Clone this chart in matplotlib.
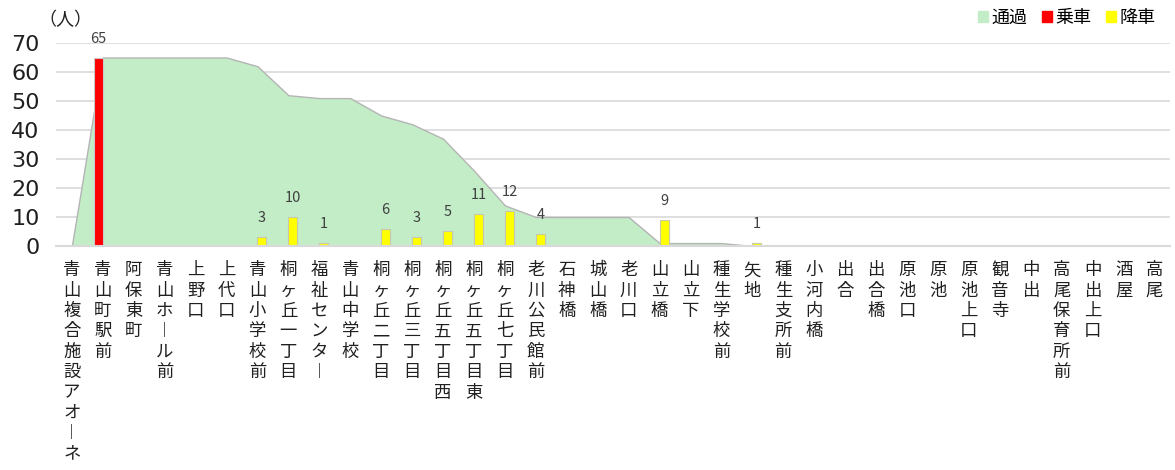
import numpy as np
import matplotlib
matplotlib.use("Agg")
import matplotlib.pyplot as plt
from matplotlib.patches import Patch

plt.rcParams['font.family'] = ['Noto Sans CJK JP', 'DejaVu Sans']

# Data
stops = ["青山複合施設アオーネ", "青山町駅前", "阿保東町", "青山ホール前", "上野口", "上代口",
         "青山小学校前", "桐ヶ丘一丁目", "福祉センター", "青山中学校", "桐ヶ丘二丁目",
         "桐ヶ丘三丁目", "桐ヶ丘五丁目西", "桐ヶ丘五丁目東", "桐ヶ丘七丁目", "老川公民館前",
         "石神橋", "城山橋", "老川口", "山立橋", "山立下", "種生学校前", "矢地", "種生支所前",
         "小河内橋", "出合", "出合橋", "原池口", "原池", "原池上口", "観音寺", "中出",
         "高尾保育所前", "中出上口", "酒屋", "高尾"]
passing = [0, 65, 65, 65, 65, 65, 62, 52, 51, 51, 45, 42, 37, 26, 14, 10, 10, 10, 10, 1,
           1, 1, 0, 0, 0, 0, 0, 0, 0, 0, 0, 0, 0, 0, 0, 0]
boarding = [0, 65] + [0] * 34
alighting = [0, 0, 0, 0, 0, 0, 3, 10, 1, 0, 6, 3, 5, 11, 12, 4, 0, 0, 0, 9,
             0, 0, 1, 0, 0, 0, 0, 0, 0, 0, 0, 0, 0, 0, 0, 0]
yticks = [0, 10, 20, 30, 40, 50, 60, 70]

x = np.arange(len(stops))
w = 0.29

fig = plt.figure(figsize=(11.75, 4.7), dpi=100)
ax = fig.add_axes([0.048, 0.4766, 0.9477, 0.4319])

ax.yaxis.grid(True, color='#d9d9d9', lw=1.2, zorder=0)
ax.set_axisbelow(True)

ax.fill_between(x, passing, color='#c3edc7', edgecolor='#b4b4b4', lw=1, zorder=1)
ax.bar(x - w / 2, boarding, w, color='#ff0000', edgecolor='#c8c8c8', lw=0.8, zorder=2)
ax.bar(x + w / 2, alighting, w, color='#ffff00', edgecolor='#c8c8b0', lw=0.8, zorder=2)

for i, v in enumerate(boarding):
    if v:
        ax.annotate(str(v), (x[i] - w / 2, v), xytext=(0, 12), textcoords='offset pixels',
                    ha='center', va='bottom', fontsize=10.5, color='#404040')
for i, v in enumerate(alighting):
    if v:
        ax.annotate(str(v), (x[i] + w / 2, v), xytext=(0, 12), textcoords='offset pixels',
                    ha='center', va='bottom', fontsize=10.5, color='#404040')

ax.set_xlim(-0.5, len(stops) - 0.5)
ax.set_ylim(0, 70)
ax.set_yticks(yticks)
ax.set_yticklabels([str(t) for t in yticks], family='DejaVu Sans')
ax.tick_params(axis='y', length=0, labelsize=16, pad=12, labelcolor='#202020')

# vertical (stacked) tick labels
vlabels = ["\n".join(s.replace("ー", "︱")) for s in stops]
ax.set_xticks(x)
ax.set_xticklabels(vlabels, fontsize=12.5, linespacing=1.17, va='top', color='#202020')
ax.tick_params(axis='x', length=0, pad=11)

for s in ['top', 'right', 'left']:
    ax.spines[s].set_visible(False)
ax.spines['bottom'].set_color('#d9d9d9')
ax.spines['bottom'].set_linewidth(1.5)

fig.text(65 / 1175, 1 - 20 / 470, "（人）", ha='center', va='center', fontsize=13, color='#202020')

handles = [Patch(color='#c3edc7'), Patch(color='#ff0000'), Patch(color='#ffff00')]
fig.legend(handles, ["通過", "乗車", "降車"], loc='center right', bbox_to_anchor=(0.997, 0.962),
           ncol=3, frameon=False, fontsize=13, handlelength=0.55, handleheight=0.55,
           handletextpad=0.2, columnspacing=0.8)

fig.savefig("out.png", dpi=100)
